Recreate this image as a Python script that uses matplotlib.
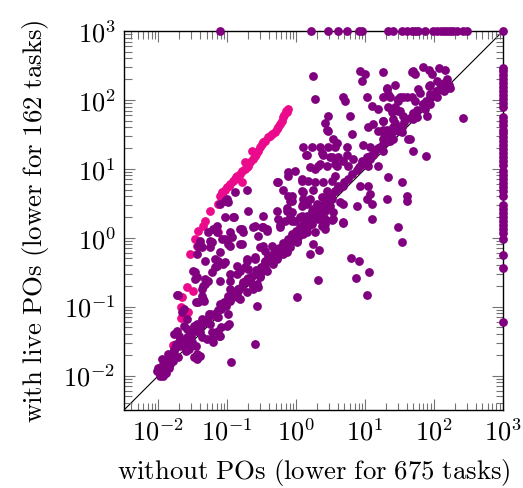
import numpy as np
import matplotlib
matplotlib.use("Agg")
import matplotlib.pyplot as plt
from matplotlib.ticker import LogLocator, NullFormatter, FuncFormatter

plt.rcParams['mathtext.fontset'] = 'cm'

# runtimes in seconds
TIMEOUT = 1000.0
lo, hi = 10 ** -2.5, 1000.0

# tasks that ran much longer with live POs (pink)
pink = [(0.016, 0.028), (0.021, 0.068), (0.021, 0.10), (0.027, 0.083), (0.022, 0.14), (0.026, 0.19),
        (0.032, 0.17), (0.029, 0.58), (0.036, 0.75), (0.034, 0.95), (0.038, 1.24), (0.045, 1.47),
        (0.048, 1.73), (0.056, 2.42), (0.074, 3.06), (0.084, 4.27), (0.074, 1.20),
        (0.079, 4.0), (0.084, 4.6), (0.093, 5.0), (0.099, 5.4), (0.106, 5.6), (0.110, 6.0),
        (0.121, 6.6), (0.130, 7.0), (0.134, 7.5), (0.139, 7.8), (0.153, 8.3), (0.164, 9.2),
        (0.181, 9.8), (0.194, 10.5), (0.200, 10.9), (0.214, 12.4), (0.237, 13.7), (0.253, 15.2),
        (0.262, 16.2), (0.280, 17.9), (0.300, 20.5), (0.321, 22.7), (0.331, 24.2), (0.354, 25.0),
        (0.392, 28.6), (0.419, 29.6), (0.448, 31.6), (0.495, 33.8), (0.530, 37.4), (0.547, 39.9),
        (0.585, 44.1), (0.626, 48.8), (0.647, 55.7), (0.669, 59.6), (0.716, 68.1), (0.740, 65.9),
        (0.765, 72.8), (0.164, 6.4), (0.181, 12.4), (0.229, 17.9)]

# bottom left cluster of fast tasks
cluster = [(0.0095, 0.0115), (0.0102, 0.0112), (0.0112, 0.0137), (0.0106, 0.0124), (0.0117, 0.0115),
           (0.0125, 0.0128), (0.0133, 0.0162), (0.0133, 0.0133), (0.0153, 0.0192), (0.0168, 0.0242),
           (0.0168, 0.0227), (0.0199, 0.0268), (0.022, 0.0316), (0.026, 0.036), (0.0297, 0.0374),
           (0.035, 0.044), (0.0415, 0.052), (0.051, 0.066), (0.064, 0.078), (0.081, 0.092), (0.095, 0.102),
           (0.0168, 0.040), (0.0186, 0.044), (0.0235, 0.052), (0.026, 0.066), (0.022, 0.083), (0.0235, 0.092),
           (0.033, 0.052), (0.046, 0.062), (0.054, 0.078), (0.031, 0.0305), (0.0278, 0.0242), (0.035, 0.0268),
           (0.033, 0.0185), (0.036, 0.0205), (0.0112, 0.0175), (0.0199, 0.0374), (0.060, 0.0338),
           (0.081, 0.050), (0.106, 0.056), (0.114, 0.0157), (0.043, 0.036), (0.075, 0.0374), (0.035, 0.116),
           (0.046, 0.120), (0.0148, 0.0147), (0.0138, 0.0205), (0.018, 0.0285), (0.0243, 0.0285),
           (0.0205, 0.0338), (0.0287, 0.043), (0.039, 0.047), (0.025, 0.0227), (0.0192, 0.0185),
           (0.0163, 0.0162), (0.0129, 0.0109), (0.0109, 0.0102), (0.012, 0.0147), (0.0099, 0.0130),
           (0.0125, 0.0112), (0.0143, 0.0128), (0.0109, 0.0120), (0.0105, 0.0097), (0.0115, 0.0100)]

# scatter above the diagonal, small runtimes
upper_low = [(0.093, 3.4), (0.093, 1.98), (0.125, 1.98), (0.2, 2.42), (0.33, 2.05), (0.52, 2.42), (0.58, 1.52),
             (0.87, 1.73), (1.22, 2.05), (1.26, 3.06), (0.81, 3.4), (0.052, 1.2), (0.071, 1.47), (0.071, 1.2),
             (0.093, 0.95), (0.11, 0.75), (0.056, 0.89), (0.040, 0.89), (0.043, 0.73), (0.036, 0.58),
             (0.056, 0.73), (0.164, 1.33), (0.17, 1.2), (0.25, 1.47), (0.33, 1.42), (0.37, 1.24), (0.164, 0.81),
             (0.33, 0.75), (0.35, 0.64), (0.44, 0.75), (0.52, 0.49), (0.46, 0.52), (0.65, 0.73), (0.87, 0.89),
             (1.14, 1.12), (1.35, 1.42), (1.45, 1.85), (0.048, 0.46), (0.066, 0.49), (0.073, 0.46),
             (0.071, 0.39), (0.087, 0.41), (0.11, 0.30), (0.139, 0.30), (0.194, 0.46), (0.25, 0.49),
             (0.35, 0.46), (0.18, 0.37), (0.11, 0.18), (0.078, 0.235), (0.052, 0.235), (0.048, 0.21),
             (0.032, 0.33), (0.034, 0.25), (0.044, 0.128), (0.038, 0.116), (0.0186, 0.15), (0.056, 0.078),
             (0.073, 0.071), (0.103, 0.078), (0.103, 0.142), (0.17, 0.226), (0.143, 0.18), (0.21, 0.235),
             (0.27, 0.102), (0.32, 0.33), (0.35, 0.37),
             (0.13, 4.6), (0.194, 5.0), (0.103, 3.3), (0.078, 3.06), (0.12, 1.98), (0.062, 1.33), (0.084, 0.95),
             (0.11, 1.2), (0.117, 1.02), (0.153, 1.33), (0.103, 0.81), (0.060, 0.86), (0.040, 0.81),
             (0.038, 0.75), (0.078, 0.62), (0.30, 0.73), (0.060, 0.315), (0.034, 0.315), (0.036, 0.27),
             (0.048, 0.25), (0.044, 0.198), (0.043, 0.18), (0.11, 0.235), (0.143, 0.167), (0.164, 0.198),
             (0.194, 0.25), (0.21, 0.226), (0.27, 0.21), (0.30, 0.28), (0.0192, 0.15), (0.043, 0.142),
             (0.117, 0.142), (0.139, 0.137), (0.194, 0.162), (0.236, 0.18), (0.28, 0.19), (0.139, 0.39),
             (0.153, 0.33), (0.20, 0.35), (0.093, 0.44), (0.066, 0.37)]

# diagonal band, low part
band_low = [(0.194, 0.235), (0.236, 0.198), (0.30, 0.27), (0.38, 0.33), (0.46, 0.41), (0.55, 0.54),
            (0.65, 0.58), (0.81, 0.73), (1.03, 0.89), (1.26, 1.12), (1.5, 1.47), (0.078, 0.109),
            (0.087, 0.102), (0.11, 0.12), (0.139, 0.142), (0.153, 0.128), (0.051, 0.062), (0.056, 0.056),
            (0.071, 0.071), (0.040, 0.043), (0.026, 0.047), (0.036, 0.056), (0.043, 0.066), (0.0287, 0.0338),
            (0.0227, 0.0268), (0.040, 0.0192), (0.036, 0.0175), (0.062, 0.0305), (0.051, 0.0338),
            (0.099, 0.052), (0.060, 0.043), (0.073, 0.044), (0.078, 0.0374), (1.03, 0.137), (0.25, 0.0285)]

band = [(0.048, 0.060), (0.060, 0.075), (0.073, 0.088), (0.090, 0.115), (0.103, 0.13), (0.12, 0.15),
        (0.143, 0.18), (0.17, 0.21), (0.20, 0.26), (0.23, 0.28), (0.26, 0.34), (0.31, 0.38), (0.35, 0.45),
        (0.42, 0.52), (0.48, 0.62), (0.57, 0.70), (0.65, 0.84), (0.76, 0.95), (0.87, 1.12), (1.0, 1.25),
        (1.14, 1.45), (1.35, 1.7), (1.55, 2.0), (1.77, 2.2), (2.1, 2.7), (2.4, 3.0), (2.7, 3.5), (3.2, 4.0),
        (3.7, 4.8), (4.2, 5.2), (5.0, 6.5), (5.7, 7.0), (6.5, 8.4), (7.7, 9.5), (8.8, 11.5), (10.0, 12.5),
        (11.9, 15.5), (13.6, 17), (15.5, 20), (18.3, 23), (21, 27), (24, 30), (28, 36), (32, 40), (37, 48),
        (44, 55), (50, 65), (57, 72), (68, 88), (77, 98), (88, 112), (105, 135), (120, 150), (137, 175),
        (156, 200)]

# middle region, around 1 s to 10 s
middle = [(0.52, 6.4), (0.65, 5.0), (0.76, 7.8), (0.76, 4.0), (0.099, 3.6), (1.26, 20.5), (1.4, 15.7),
          (1.6, 10.5), (1.22, 7.0), (0.87, 4.0), (1.26, 4.6), (0.74, 2.7), (0.87, 2.35), (1.6, 3.6),
          (1.45, 16), (2.47, 16), (3.3, 14.7), (3.7, 11.6), (2.23, 11.6), (1.9, 9.8), (4.8, 12.8),
          (0.76, 8.9), (0.97, 9.2), (0.55, 6.4), (1.22, 6.6), (1.5, 6.6), (1.9, 6.4), (2.47, 6.4), (3.3, 6.6),
          (3.7, 7.8), (4.1, 5.6), (4.8, 5.6), (1.22, 4.7), (1.77, 5.0), (2.8, 4.7), (3.7, 4.7), (0.87, 3.4),
          (1.26, 3.6), (2.4, 3.9), (2.8, 4.0), (3.3, 3.6), (4.35, 3.3), (1.45, 3.06), (2.0, 3.06),
          (2.47, 2.86), (3.1, 2.86), (4.8, 3.06), (0.74, 2.42), (1.7, 2.42), (2.1, 2.42), (2.6, 2.42),
          (3.4, 2.35), (0.81, 1.98), (1.14, 1.98), (1.45, 2.05), (1.77, 2.05), (2.1, 1.85), (2.6, 1.85),
          (3.4, 1.85), (4.8, 1.68), (0.55, 1.85), (0.69, 1.73), (0.97, 1.73), (0.236, 1.42), (0.32, 1.42),
          (0.38, 1.33), (0.58, 1.42), (1.26, 1.57), (1.7, 1.57), (2.4, 1.47), (2.6, 1.33), (1.14, 1.24),
          (1.45, 1.2), (1.9, 1.2), (0.90, 1.05), (1.07, 1.02), (0.28, 1.05), (0.153, 0.81), (0.69, 0.75),
          (0.81, 0.86), (1.03, 0.86), (1.77, 0.81), (0.55, 0.64), (0.74, 0.62), (0.39, 0.54), (0.25, 0.52),
          (0.194, 0.49), (1.6, 0.58)]

# upper region, 10 s and more
upper_high = [(1.77, 220), (8.5, 260), (10.0, 235), (9.0, 190), (18, 250), (48, 250), (1.9, 102), (4.8, 112),
              (5.1, 95), (10.8, 112), (21, 150), (27, 167), (18, 109), (23, 109), (32, 112), (41, 112),
              (48, 112), (29.5, 95), (12.7, 81), (15.5, 73), (21.7, 78), (27, 73), (24.8, 66), (32, 68),
              (35.8, 58), (2.9, 58), (6.0, 58), (2.6, 47), (2.8, 37), (2.9, 35), (11.1, 41), (13.1, 44),
              (18, 49), (27, 47), (21, 37), (25.7, 40), (34.7, 40), (34.7, 33.8), (18, 37), (15.5, 35),
              (6.5, 31.6), (45, 26.8), (3.4, 26.8), (3.95, 24), (9.4, 22), (11.9, 20.5), (14.1, 19),
              (16.6, 21), (21, 28), (21.7, 25), (18, 18), (13.1, 16), (10.8, 14.7), (1.7, 20.5), (2.23, 21),
              (2.9, 20.5), (3.7, 21), (5.5, 21), (2.4, 17), (3.1, 14.7), (4.1, 14.7), (5.5, 16), (6.7, 13.7),
              (9.0, 12.8), (11.9, 13.7), (15.5, 10.9), (2.1, 10.9), (2.8, 10.9), (3.95, 10.9), (5.7, 10.9),
              (8.0, 10.5), (11.1, 10.9),
              (50, 260), (53, 235), (70, 300), (83, 276), (116, 286), (146, 276), (94, 235), (112, 185),
              (88, 167), (83, 157), (162, 167), (146, 142), (137, 133), (173, 150), (21, 142), (21.7, 120),
              (29.5, 102), (35.8, 109), (53, 95), (59, 142), (63, 128), (88, 120), (112, 112), (27, 78),
              (30, 68), (68, 86), (75, 73), (88, 86), (80, 58), (57, 56), (50, 52), (25.7, 52), (18.3, 49),
              (30, 35), (24.8, 35), (18, 33.8), (18.3, 26.8), (23, 25), (25.7, 26.8), (42, 26.8), (260, 54),
              (50, 18)]

# faster with live POs (below the diagonal)
lower = [(77, 15.2), (21.7, 7.5), (34.7, 6.4), (41, 4.0), (41, 3.4), (12.7, 1.85), (7.7, 2.86), (21, 3.6),
         (8.5, 5.6), (11.1, 5.6), (11.9, 4.3), (1.22, 2.86), (1.77, 2.6), (2.47, 2.2), (2.6, 1.57),
         (3.3, 1.8), (4.8, 1.62), (10.8, 3.6), (12.7, 3.06), (29.5, 1.42), (34.7, 0.86), (2.15, 0.66),
         (6.2, 0.50), (8.2, 0.46), (11.5, 0.315), (7.4, 0.26), (2.1, 0.24), (10.8, 0.147)]

# timeouts: with live POs hit the limit (top row) / without POs hit the limit (right column)
top_x = [0.078, 1.65, 2.9, 4.1, 5.5, 8.0, 9.0, 21.7, 25.7, 34.7, 41, 48, 53, 59, 75, 98, 112, 124, 137,
         156, 173, 191, 218, 260, 305, 1000]
right_y = [295, 260, 227, 198, 174, 152, 133, 116, 102, 89, 78, 56, 49, 43, 37, 33, 28.6, 25, 22, 19.2,
           16.8, 14.7, 12.8, 11.2, 9.2, 8.0, 7.0, 6.2, 5.4, 4.7, 4.1, 2.95, 2.6, 2.27, 1.98, 1.74, 1.52,
           1.33, 1.16, 0.95, 0.56, 0.36, 0.060]

purple = cluster + upper_low + band_low + band + middle + upper_high + lower
purple += [(x, TIMEOUT) for x in top_x] + [(TIMEOUT, y) for y in right_y]
px, py = np.array(purple).T
kx, ky = np.array(pink).T

fig = plt.figure(figsize=(5.23, 4.89), dpi=100)
ax = fig.add_axes([124 / 523, 78 / 489, 379 / 523, 379 / 489])

ax.plot([lo, hi], [lo, hi], color='black', lw=0.8, zorder=1)
ax.scatter(kx, ky, s=40, color='#eb0a8c', linewidths=0, zorder=2, clip_on=False)
ax.scatter(px, py, s=40, color='#800080', linewidths=0, zorder=3, clip_on=False)

ax.set_xscale('log')
ax.set_yscale('log')
ax.set_xlim(lo, hi)
ax.set_ylim(lo, hi)

fmt = FuncFormatter(lambda v, p: r'$10^{%d}$' % int(round(np.log10(v))))
for a in (ax.xaxis, ax.yaxis):
    a.set_major_locator(LogLocator(base=10, numticks=10))
    a.set_minor_locator(LogLocator(base=10, subs=np.arange(2, 10), numticks=20))
    a.set_major_formatter(fmt)
    a.set_minor_formatter(NullFormatter())

ax.tick_params(which='both', direction='in', top=True, right=True, color='0.45', width=0.8, labelsize=19)
ax.tick_params(which='major', length=8, pad=6)
ax.tick_params(which='minor', length=5.4)
for sp in ax.spines.values():
    sp.set_linewidth(1.0)
    sp.set_zorder(2.5)

ax.set_xlabel(r'$\mathrm{without\ POs\ (lower\ for\ 675\ tasks)}$', fontsize=19.3, labelpad=8)
ax.set_ylabel(r'$\mathrm{with\ live\ POs\ (lower\ for\ 162\ tasks)}$', fontsize=19.3, labelpad=9)

fig.savefig('out.png', dpi=100)
